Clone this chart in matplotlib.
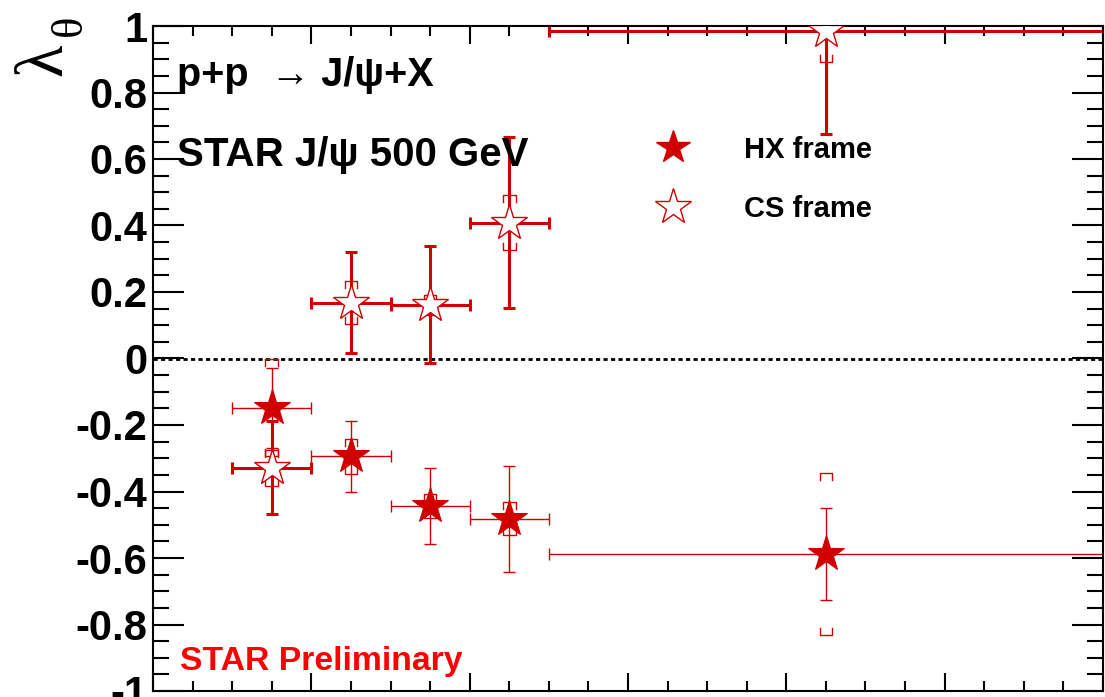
import numpy as np
import matplotlib.pyplot as plt
from matplotlib.ticker import MultipleLocator, FuncFormatter

plt.rcParams['font.family'] = ['Liberation Sans', 'DejaVu Sans']
plt.rcParams['font.weight'] = 'bold'

# pT bins (GeV/c)
pt_lo = np.array([1, 2, 3, 4, 5])
pt_hi = np.array([2, 3, 4, 5, 12])
pt = np.array([1.5, 2.5, 3.5, 4.5, 8.5])

# lambda_theta, helicity frame
hx_val = np.array([-0.148, -0.294, -0.444, -0.482, -0.589])
hx_stat = np.array([0.12, 0.107, 0.115, 0.16, 0.138])
hx_sys = np.array([0.145, 0.053, 0.035, 0.05, 0.244])

# lambda_theta, Collins-Soper frame
cs_val = np.array([-0.329, 0.168, 0.162, 0.408, 0.984])
cs_stat = np.array([0.14, 0.152, 0.175, 0.257, 0.31])
cs_sys = np.array([0.055, 0.065, 0.03, 0.083, 0.092])

red = '#d00000'


def sys_brackets(ax, x, y, err):
    w, leg = 0.08, 0.021
    for xi, yi, ei in zip(x, y, err):
        top, bot = yi + ei, yi - ei
        ax.plot([xi - w, xi - w, xi + w, xi + w], [top - leg, top, top, top - leg],
                color=red, lw=1.0, zorder=3)
        ax.plot([xi - w, xi - w, xi + w, xi + w], [bot + leg, bot, bot, bot + leg],
                color=red, lw=1.0, zorder=3)


fig = plt.figure(figsize=(11.05, 6.97), dpi=100)
ax = fig.add_axes([153 / 1105, 6 / 697, 950 / 1105, 665 / 697])
ax.set_xlim(0, 12)
ax.set_ylim(-1, 1)

ax.axhline(0, color='black', lw=2.0, ls=(0, (1.5, 1.2)), zorder=1)

xerr = [pt - pt_lo, pt_hi - pt]
# HX: thin bars, filled stars
ax.errorbar(pt, hx_val, xerr=xerr, yerr=hx_stat, fmt='none', ecolor=red,
            elinewidth=1.0, capsize=4.3, capthick=1.0, zorder=2)
sys_brackets(ax, pt, hx_val, hx_sys)
ax.plot(pt, hx_val, ls='none', marker='*', ms=27, color=red, mec=red, mew=0.8, zorder=5)

# CS: thick bars, open stars
ax.errorbar(pt, cs_val, xerr=xerr, yerr=cs_stat, fmt='none', ecolor=red,
            elinewidth=2.2, capsize=4.3, capthick=2.2, zorder=2)
sys_brackets(ax, pt, cs_val, cs_sys)
ax.plot(pt, cs_val, ls='none', marker='*', ms=27, mfc='white', mec=red, mew=1.0, zorder=5)

# axes style
for sp in ax.spines.values():
    sp.set_linewidth(1.5)
ax.xaxis.set_major_locator(MultipleLocator(2))
ax.xaxis.set_minor_locator(MultipleLocator(0.5))
ax.yaxis.set_major_locator(MultipleLocator(0.2))
ax.yaxis.set_minor_locator(MultipleLocator(0.05))
ax.tick_params(which='both', direction='in', top=True, right=True, width=1.5,
               labelbottom=False)
ax.tick_params(axis='x', which='major', length=13)
ax.tick_params(axis='x', which='minor', length=7)
ax.tick_params(axis='y', which='major', length=22, labelsize=30, pad=4)
ax.tick_params(axis='y', which='minor', length=11.5)


def ylab(v, pos):
    v = round(v, 1)
    if v == 0:
        return '0'
    return f'{v:g}'


ax.yaxis.set_major_formatter(FuncFormatter(ylab))

# axis title: lambda with theta subscript
fig.text(45 / 1105, 1 - 60 / 697, '\u03bb', rotation=90, fontsize=48,
         family='Liberation Serif', fontweight='normal', ha='center', va='center')
fig.text(70 / 1105, 1 - 25 / 697, '\u03b8', rotation=90, fontsize=32,
         family='Liberation Serif', fontweight='normal', ha='center', va='center')

ax.text(0.025, 0.926, 'p+p  \u2192 J/\u03c8+X', transform=ax.transAxes,
        fontsize=28.5, ha='left', va='center')
ax.text(0.025, 0.806, 'STAR J/\u03c8 500 GeV', transform=ax.transAxes,
        fontsize=29, ha='left', va='center')
ax.text(0.028, 0.044, 'STAR Preliminary', transform=ax.transAxes,
        fontsize=24.3, color='red', ha='left', va='center')

# legend
ax.plot([0.547], [0.818], transform=ax.transAxes, ls='none', marker='*', ms=25,
        color=red, mec=red, clip_on=False)
ax.plot([0.547], [0.728], transform=ax.transAxes, ls='none', marker='*', ms=27,
        mfc='white', mec=red, mew=1.0, clip_on=False)
ax.text(0.622, 0.814, 'HX frame', transform=ax.transAxes, fontsize=21,
        ha='left', va='center')
ax.text(0.622, 0.725, 'CS frame', transform=ax.transAxes, fontsize=21,
        ha='left', va='center')

fig.savefig('out.png', dpi=100)
